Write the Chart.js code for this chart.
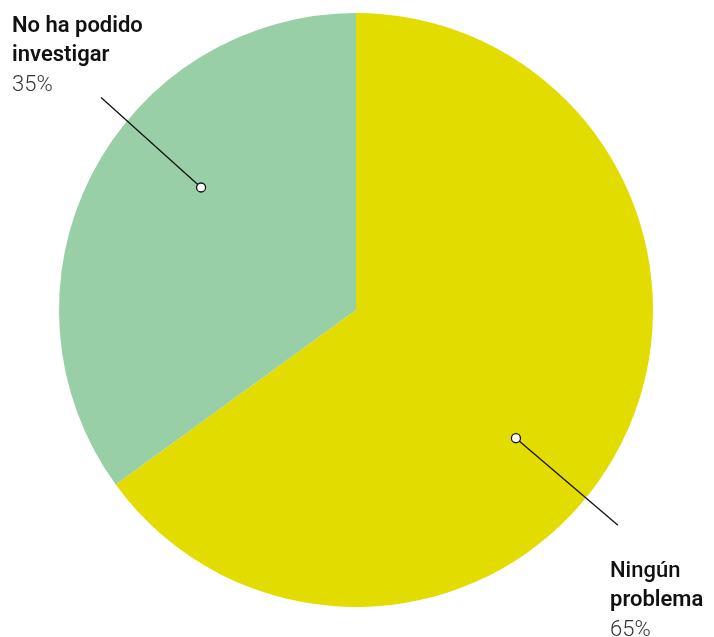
<!DOCTYPE html>
<html>
<head>
<meta charset="utf-8">
<script src="https://cdn.jsdelivr.net/npm/chart.js@4/dist/chart.umd.min.js"></script>
<style>
  html, body { margin: 0; padding: 0; background: #fff; }
  #wrap { width: 714px; height: 637px; }
</style>
</head>
<body>
<div id="wrap"><canvas id="myChart" width="714" height="637"></canvas></div>
<script>
var categories = ["Ningún problema", "No ha podido investigar"];
var values = [65, 35];
var colors = ["#e3dc00", "#99cfa7"];

// label text, split in two lines per slice
var labelLines = [["Ningún", "problema"], ["No ha podido", "investigar"]];

var calloutPlugin = {
	id: 'callouts',
	afterDatasetsDraw: function(chart){
		var ctx = chart.ctx;
		var meta = chart.getDatasetMeta(0);
		var total = values.reduce(function(a, b){ return a + b; }, 0);

		meta.data.forEach(function(arc, i){
			var a = arc.startAngle + (arc.endAngle - arc.startAngle) * (i == 0 ? 0.55 : 0.59);
			var r = arc.outerRadius * (i == 0 ? 0.69 : 0.665);
			var dx = arc.x + Math.cos(a) * r;
			var dy = arc.y + Math.sin(a) * r;
			var ex, ey;
			if (i == 0) { ex = dx + 102; ey = dy + 87; }
			else { ex = dx - 100; ey = dy - 90; }

			ctx.save();
			ctx.strokeStyle = "#111";
			ctx.lineWidth = 1.3;
			ctx.beginPath();
			ctx.moveTo(dx, dy);
			ctx.lineTo(ex, ey);
			ctx.stroke();

			ctx.beginPath();
			ctx.arc(dx, dy, 4.5, 0, Math.PI * 2);
			ctx.fillStyle = "#fff";
			ctx.fill();
			ctx.stroke();

			var pct = Math.round(values[i] / total * 100) + "%";
			var tx, ty;
			if (i == 0) { tx = 610; ty = 577; }
			else { tx = 12; ty = 32; }
			ctx.textAlign = "left";
			ctx.textBaseline = "alphabetic";
			ctx.fillStyle = "#111";
			ctx.font = (i == 0 ? "500" : "600") + " 22px Roboto";
			ctx.fillText(labelLines[i][0], tx, ty);
			ctx.font = "600 22px Roboto";
			ctx.fillText(labelLines[i][1], tx, ty + 29);
			ctx.font = "300 22px Roboto";
			ctx.fillStyle = "#333";
			ctx.fillText(pct, tx, ty + 59);
			ctx.restore();
		});
	}
};

var ctx = document.getElementById('myChart').getContext('2d');
var pieChart = new Chart(ctx, {
	type: 'pie',
	data: {
		labels: categories,
		datasets: [{
			data: values,
			backgroundColor: colors,
			borderWidth: 0
		}]
	},
	options: {
		responsive: false,
		animation: false,
		layout: { padding: { top: 13, bottom: 30, left: 59, right: 61 } },
		plugins: {
			legend: { display: false },
			tooltip: { enabled: false }
		}
	},
	plugins: [calloutPlugin]
});
</script>
</body>
</html>
